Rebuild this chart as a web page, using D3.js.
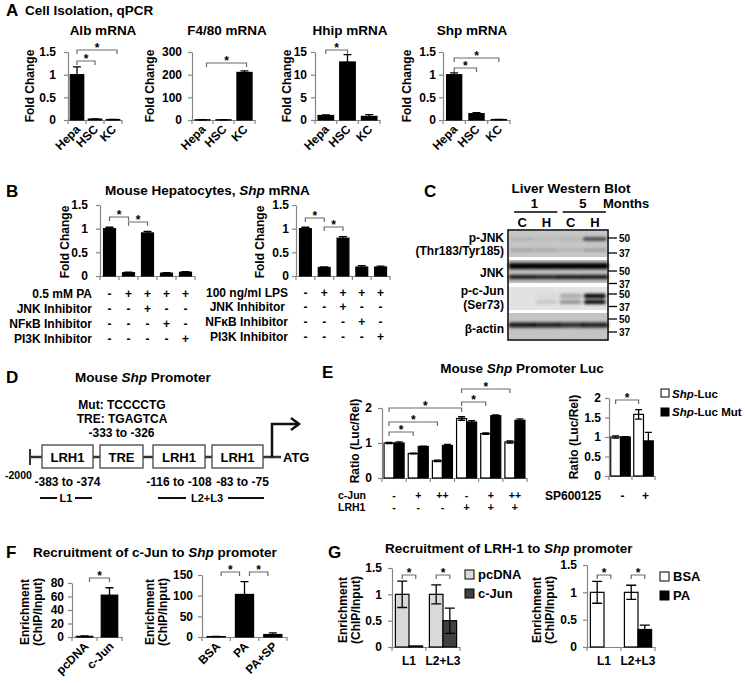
<!DOCTYPE html>
<html><head><meta charset="utf-8">
<script src="https://cdn.jsdelivr.net/npm/d3@7"></script>
<style>body{margin:0;background:#fff}svg{display:block}</style>
</head><body><svg id="fig" width="745" height="683"></svg>
<script>
// ================= DATA =================
// Panel A
const cellTypes = ["Hepa", "HSC", "KC"];
const albMean = [1.0, 0.02, 0.01], albErr = [0.17, 0.004, 0.002];
const f480Mean = [1.0, 1.0, 210], f480Err = [0.5, 0.5, 7];
const hhipMean = [1.0, 12.8, 0.8], hhipErr = [0.12, 1.6, 0.4];
const shpMean = [1.0, 0.14, 0.01], shpErr = [0.04, 0.02, 0.002];
const ticksA1 = [0, 0.5, 1, 1.5], ticksA2 = [0, 100, 200, 300], ticksA3 = [0, 5, 10, 15];
// Panel B
const bConds = ["c1", "c2", "c3", "c4", "c5"];
const paMean = [1.0, 0.07, 0.91, 0.06, 0.08], paErr = [0.03, 0.01, 0.03, 0.01, 0.01];
const lpsMean = [1.0, 0.18, 0.80, 0.19, 0.19], lpsErr = [0.03, 0.01, 0.03, 0.03, 0.02];
const paRows = ["0.5 mM PA", "JNK Inhibitor", "NFκB Inhibitor", "PI3K Inhibitor"];
const lpsRows = ["100 ng/ml LPS", "JNK Inhibitor", "NFκB Inhibitor", "PI3K Inhibitor"];
const bSigns = [["-","+","+","+","+"], ["-","-","+","-","-"], ["-","-","-","+","-"], ["-","-","-","-","+"]];
// Panel C (western blot)
const blotMonths = ["1", "5"];
const blotLanes = ["C", "H", "C", "H"];
const blotProteins = [["p-JNK", "(Thr183/Tyr185)"], ["JNK"], ["p-c-Jun", "(Ser73)"], ["β-actin"]];
const mwLabels = ["50", "37", "50", "37", "50", "37", "50", "37"];
const pjnkUpper = [0.1, 0.06, 0.08, 0.7], pjnkLower = [0.22, 0.2, 0.12, 0.25];
const jnkUpper = [1, 1, 1, 1], jnkLower = [0.9, 0.85, 0.9, 0.9];
const pcjunUpper = [0, 0.03, 0.25, 1], pcjunLower = [0, 0.12, 0.35, 1];
const actinBand = [0.9, 0.85, 0.8, 0.85];
// Panel D
const promoterBoxes = ["LRH1", "TRE", "LRH1", "LRH1"];
const promoterPos = ["-383 to -374", "-333 to -326", "-116 to -108", "-83 to -75"];
// Panel E
const eGroups = ["g1", "g2", "g3", "g4", "g5", "g6"];
const lucMean = [1.00, 0.70, 0.49, 1.70, 1.27, 1.03], lucErr = [0.02, 0.01, 0.02, 0.05, 0.02, 0.03];
const mutMean = [1.00, 0.90, 0.93, 1.60, 1.78, 1.65], mutErr = [0.03, 0.01, 0.03, 0.04, 0.02, 0.04];
const cJunSigns = ["-", "+", "++", "-", "+", "++"], lrh1Signs = ["-", "-", "-", "+", "+", "+"];
const spSigns = ["-", "+"];
const spLucMean = [1.0, 1.58], spLucErr = [0.03, 0.12], spMutMean = [1.0, 0.90], spMutErr = [0.01, 0.22];
const ticksE1 = [0, 1, 2], ticksE2 = [0, 0.5, 1, 1.5, 2];
// Panel F
const fLeftCats = ["pcDNA", "c-Jun"], fLeftMean = [1, 62], fLeftErr = [0.6, 11];
const fRightCats = ["BSA", "PA", "PA+SP"], fRightMean = [1, 103, 6], fRightErr = [0.4, 31, 4];
const ticksF1 = [0, 20, 40, 60, 80], ticksF2 = [0, 50, 100, 150];
// Panel G
const gSites = ["L1", "L2+L3"];
const gPcdnaMean = [1.0, 1.0], gPcdnaErr = [0.25, 0.18], gCjunMean = [0.02, 0.50], gCjunErr = [0, 0.24];
const gBsaMean = [1.0, 1.0], gBsaErr = [0.2, 0.13], gPaMean = [0.0, 0.32], gPaErr = [0, 0.08];

// ================= DRAWING =================
const FONT = '"Liberation Sans", Arial, Helvetica, sans-serif';
const AX = "#858585", BR = "#6a6a6a";
const svg = d3.select("#fig");
svg.append("rect").attr("width", 745).attr("height", 683).attr("fill", "#fff");

function T(x, y, parts, o = {}) {
  const t = svg.append("text").attr("x", x).attr("y", y)
    .attr("font-family", FONT).attr("font-weight", "bold").attr("font-size", o.size || 12)
    .attr("text-anchor", o.anchor || "start").attr("fill", o.fill || "#000");
  if (o.transform) t.attr("transform", o.transform);
  if (o.baseline) t.attr("dominant-baseline", o.baseline);
  if (typeof parts === "string") parts = [[parts]];
  parts.forEach(p => t.append("tspan").text(p[0]).attr("font-style", p[1] ? "italic" : "normal"));
  return t;
}
function bracket(x1, x2, y, color) {
  svg.append("path").attr("d", `M${x1},${y + 4}V${y}H${x2}V${y + 4}`)
    .attr("fill", "none").attr("stroke", color || BR).attr("stroke-width", 1.2);
  T((x1 + x2) / 2, y + 1.5, "*", { anchor: "middle", size: 12 });
}
function yLabel(x, y, lines, size) {
  lines.forEach((l, i) => T(x + i * 12.5, y, l, { anchor: "middle", baseline: "central", size: size || 12, transform: `rotate(-90 ${x + i * 12.5} ${y})` }));
}

function barChart(o) {
  const g = svg.append("g");
  const y = d3.scaleLinear().domain([0, o.max]).range([o.y0, o.yTop]);
  const x = d3.scaleBand().domain(o.cats).range([o.left, o.right]);
  const bw = x.bandwidth(), gw = bw * o.frac;
  const sub = d3.scaleBand().domain(d3.range(o.series.length)).range([(bw - gw) / 2, (bw + gw) / 2]);
  const sw = sub.bandwidth();
  const cxOf = (ci, si) => x(o.cats[ci]) + sub(si) + sw / 2;
  // x axis
  g.append("g").attr("transform", `translate(0,${o.y0})`)
    .call(d3.axisBottom(x).tickValues([]).tickSizeOuter(0))
    .select(".domain").attr("stroke", AX).attr("stroke-width", 1.2);
  g.append("g").selectAll("line").data(d3.range(o.cats.length + 1)).join("line")
    .attr("x1", i => o.left + i * bw).attr("x2", i => o.left + i * bw)
    .attr("y1", o.y0).attr("y2", o.y0 + 4).attr("stroke", AX).attr("stroke-width", 1.2);
  // bars
  o.series.forEach((s, si) => {
    const d = o.cats.map((c, i) => ({ c, i, m: s.mean[i] }));
    g.append("g").selectAll("rect").data(d).join("rect")
      .attr("x", d => x(d.c) + sub(si)).attr("width", sw)
      .attr("y", d => y(d.m)).attr("height", d => o.y0 - y(d.m))
      .attr("fill", s.fill).attr("stroke", "#000").attr("stroke-width", 1.2);
  });
  // error bars
  const cap = o.cap || 4;
  o.series.forEach((s, si) => {
    const d = o.cats.map((c, i) => ({ i, m: s.mean[i], e: s.err ? s.err[i] : 0 })).filter(d => d.e > 0);
    g.append("g").selectAll("path").data(d).join("path")
      .attr("d", d => {
        const cx = cxOf(d.i, si), t = y(d.m + d.e), b = y(Math.max(0, d.m - d.e));
        return `M${cx - cap},${t}H${cx + cap}M${cx},${t}V${b}M${cx - cap},${b}H${cx + cap}`;
      })
      .attr("stroke", "#000").attr("stroke-width", 1.3).attr("fill", "none");
  });
  // y axis
  const yg = g.append("g").attr("transform", `translate(${o.left},0)`)
    .call(d3.axisLeft(y).tickValues(o.ticks).tickSize(4).tickSizeOuter(0).tickPadding(o.pad || 5).tickFormat(d => String(d)));
  yg.attr("font-family", FONT).attr("font-size", 12).attr("font-weight", "bold").attr("color", "#000");
  yg.select(".domain").attr("stroke", AX).attr("stroke-width", 1.2);
  yg.selectAll(".tick line").attr("stroke", AX).attr("stroke-width", 1.2);
  // rotated category labels
  if (o.rot) {
    o.cats.forEach(c => {
      const px = x(c) + bw / 2 + o.rot[0], py = o.y0 + o.rot[1];
      T(px, py, c, { anchor: "end", transform: `rotate(-45 ${px} ${py})` });
    });
  }
  if (o.hlab) {
    o.cats.forEach(c => T(x(c) + bw / 2, o.hlab, c, { anchor: "middle" }));
  }
  if (o.brackets) o.brackets.forEach(b => bracket(cxOf(b[0], b[1]) + (b[5] || 0), cxOf(b[2], b[3]) + (b[6] || 0), b[4]));
  return { x, y, bw, cxOf };
}

// ---------- Panel A ----------
T(6, 16, "A", { size: 17 });
T(25, 15, "Cell Isolation, qPCR", { size: 13.5 });
T(103, 35, "Alb mRNA", { anchor: "middle", size: 13.5 });
T(227, 35, "F4/80 mRNA", { anchor: "middle", size: 13.5 });
T(350, 35, "Hhip mRNA", { anchor: "middle", size: 13.5 });
T(472, 35, "Shp mRNA", { anchor: "middle", size: 13.5 });
const blk = (m, e) => [{ mean: m, err: e, fill: "#000" }];
barChart({ cats: cellTypes, series: blk(albMean, albErr), left: 68, right: 122, y0: 120, yTop: 52, max: 1.5, ticks: ticksA1, frac: 0.75, pad: 8, rot: [4, 10], brackets: [[0, 0, 1, 0, 61], [0, 0, 2, 0, 50, 0, 4]] });
yLabel(30, 86, ["Fold Change"]);
barChart({ cats: cellTypes, series: blk(f480Mean, f480Err), left: 192, right: 255, y0: 120, yTop: 52, max: 300, ticks: ticksA2, frac: 0.72, pad: 6, rot: [4, 10], brackets: [[0, 0, 2, 0, 63, 4, 2]] });
yLabel(150, 86, ["Fold Change"]);
barChart({ cats: cellTypes, series: blk(hhipMean, hhipErr), left: 315, right: 380, y0: 120, yTop: 52, max: 15, ticks: ticksA3, frac: 0.72, pad: 4, rot: [4, 10], brackets: [[0, 0, 1, 0, 50]] });
yLabel(287, 86, ["Fold Change"]);
barChart({ cats: cellTypes, series: blk(shpMean, shpErr), left: 443, right: 510, y0: 120, yTop: 52, max: 1.5, ticks: ticksA1, frac: 0.68, pad: 3, rot: [4, 10], brackets: [[0, 0, 1, 0, 68], [0, 0, 2, 0, 58]] });
yLabel(407, 86, ["Fold Change"]);

// ---------- Panel B ----------
T(6, 197, "B", { size: 17 });
T(105, 195, [["Mouse Hepatocytes, "], ["Shp", true], [" mRNA"]], { size: 13.5 });
const bL = barChart({ cats: bConds, series: blk(paMean, paErr), left: 100, right: 195, y0: 276, yTop: 205, max: 1.5, ticks: ticksA1, frac: 0.63, pad: 8, brackets: [[0, 0, 1, 0, 217], [1, 0, 2, 0, 222]] });
yLabel(65, 242, ["Fold Change"]);
const bR = barChart({ cats: bConds, series: blk(lpsMean, lpsErr), left: 296, right: 390, y0: 276, yTop: 205, max: 1.5, ticks: ticksA1, frac: 0.63, pad: 3, brackets: [[0, 0, 1, 0, 218], [1, 0, 2, 0, 227]] });
yLabel(260, 242, ["Fold Change"]);
const bRowY = [298, 313, 328, 343], bRowYR = [297, 311, 326, 341];
paRows.forEach((r, ri) => {
  T(92, bRowY[ri], r, { anchor: "end" });
  bConds.forEach((c, ci) => T(bL.x(c) + bL.bw / 2, bRowY[ri], bSigns[ri][ci], { anchor: "middle" }));
});
lpsRows.forEach((r, ri) => {
  T(ri === 1 ? 285 : 288, bRowYR[ri], r, { anchor: "end" });
  bConds.forEach((c, ci) => T(bR.x(c) + bR.bw / 2, bRowYR[ri], bSigns[ri][ci], { anchor: "middle" }));
});

// ---------- Panel C ----------
T(424, 197, "C", { size: 17 });
T(571, 193, "Liver Western Blot", { anchor: "middle", size: 13.5 });
const laneX = d3.scaleBand().domain(d3.range(4)).range([510, 607]);
const lc = i => laneX(i) + laneX.bandwidth() / 2;
blotMonths.forEach((m, mi) => {
  const cx = (lc(mi * 2) + lc(mi * 2 + 1)) / 2;
  T(cx, 208, m, { anchor: "middle", size: 13 });
  svg.append("line").attr("x1", lc(mi * 2) - 8).attr("x2", lc(mi * 2 + 1) + 11)
    .attr("y1", 212).attr("y2", 212).attr("stroke", "#000").attr("stroke-width", 1.5);
});
T(603, 208, "Months", { size: 13 });
blotLanes.forEach((l, i) => T(lc(i), 227, l, { anchor: "middle", size: 13 }));
const defs = svg.append("defs");
defs.append("filter").attr("id", "blur").attr("x", "-20%").attr("y", "-50%").attr("width", "140%").attr("height", "200%")
  .append("feGaussianBlur").attr("stdDeviation", 1.4);
const strips = [[231, 257, "#c6c6c6"], [260, 283, "#bcbcbc"], [287, 310, "#e2e2e2"], [313, 339, "#c4c4c4"]];
svg.append("rect").attr("x", 508).attr("y", 230).attr("width", 100).attr("height", 110).attr("fill", "#fff").attr("stroke", "#000").attr("stroke-width", 1.5);
strips.forEach(s => svg.append("rect").attr("x", 509).attr("y", s[0]).attr("width", 98).attr("height", s[1] - s[0]).attr("fill", s[2]));
const bandG = svg.append("g").attr("filter", "url(#blur)");
function bands(vals, yc, h, w) {
  bandG.append("g").selectAll("rect").data(vals).join("rect")
    .attr("x", (v, i) => lc(i) - w / 2).attr("width", w).attr("y", yc - h / 2).attr("height", h)
    .attr("rx", 2).attr("fill", "#000").attr("opacity", v => v);
}
bands(pjnkUpper, 239, 3.5, 24);
bands(pjnkLower, 250, 2.5, 24);
bands(jnkUpper, 266, 6, 27);
bands(jnkLower, 277, 4, 27);
bands(pcjunUpper, 296, 4.5, 22);
bands(pcjunLower, 302, 4, 22);
bands(actinBand, 325, 5, 27);
blotProteins.forEach((p, i) => {
  const ys = [[242, 255], [277], [295, 309], [333]][i];
  p.forEach((l, j) => T(504, ys[j], l, { anchor: "end", size: 12 }));
});
const mwY = [238, 253, 271, 283.5, 294, 306.5, 319, 332];
mwLabels.forEach((m, i) => {
  svg.append("line").attr("x1", 608).attr("x2", 617).attr("y1", mwY[i]).attr("y2", mwY[i]).attr("stroke", "#000").attr("stroke-width", 1.3);
  T(619, mwY[i], m, { baseline: "central", size: 10 });
});

// ---------- Panel D ----------
T(6, 383, "D", { size: 17 });
T(75, 382, [["Mouse "], ["Shp", true], [" Promoter"]], { size: 13.5 });
T(122, 409, "Mut: TCCCCTG", { anchor: "middle" });
T(122, 423, "TRE: TGAGTCA", { anchor: "middle" });
const boxX = [[42, 93], [100, 143], [153, 205], [212, 263]];
svg.append("line").attr("x1", 30).attr("x2", 281).attr("y1", 457).attr("y2", 457).attr("stroke", "#333").attr("stroke-width", 2.5);
svg.append("line").attr("x1", 30).attr("x2", 30).attr("y1", 449).attr("y2", 465).attr("stroke", "#333").attr("stroke-width", 2);
svg.append("path").attr("d", "M272,457V424H298").attr("fill", "none").attr("stroke", "#111").attr("stroke-width", 2.5);
svg.append("path").attr("d", "M291,418L299,424L291,430").attr("fill", "none").attr("stroke", "#111").attr("stroke-width", 2.5);
promoterBoxes.forEach((b, i) => {
  svg.append("rect").attr("x", boxX[i][0]).attr("y", 445).attr("width", boxX[i][1] - boxX[i][0]).attr("height", 23)
    .attr("fill", "#fff").attr("stroke", "#444").attr("stroke-width", 1.3);
  const cx = (boxX[i][0] + boxX[i][1]) / 2;
  T(cx, 462, b, { anchor: "middle", size: 13 });
  if (i === 1) T(cx, 437, promoterPos[i], { anchor: "middle" });
  else T(cx + (i === 3 ? 5 : 0), 486, promoterPos[i], { anchor: "middle" });
});
T(283, 462, "ATG", { size: 13 });
T(5, 479, "-2000", { size: 10.5 });
svg.append("path").attr("d", "M40,498H57M75,498H92M158,498H186M228,498H264").attr("stroke", "#111").attr("stroke-width", 2);
T(66, 502, "L1", { anchor: "middle", size: 11 });
T(207, 502, "L2+L3", { anchor: "middle", size: 11 });

// ---------- Panel E ----------
T(322, 378, "E", { size: 17 });
T(522, 373, [["Mouse "], ["Shp", true], [" Promoter Luc"]], { anchor: "middle", size: 13.5 });
const eL = barChart({ cats: eGroups, series: [{ mean: lucMean, err: lucErr, fill: "#fff" }, { mean: mutMean, err: mutErr, fill: "#000" }],
  left: 382, right: 527, y0: 478, yTop: 408, max: 2, ticks: ticksE1, frac: 0.83, pad: 6, cap: 3.5,
  brackets: [[0, 0, 1, 0, 432], [0, 0, 2, 0, 422], [0, 0, 3, 0, 408], [3, 0, 4, 0, 402], [3, 0, 5, 0, 389]] });
yLabel(355, 441, ["Ratio (Luc/Rel)"]);
T(338, 498.5, "c-Jun", { size: 10.5 });
T(338, 510.5, "LRH1", { size: 10.5 });
eGroups.forEach((gname, i) => {
  T(eL.x(gname) + eL.bw / 2, 498.5, cJunSigns[i], { anchor: "middle", size: 10.5 });
  T(eL.x(gname) + eL.bw / 2, 510.5, lrh1Signs[i], { anchor: "middle", size: 10.5 });
});
const eR = barChart({ cats: spSigns, series: [{ mean: spLucMean, err: spLucErr, fill: "#fff" }, { mean: spMutMean, err: spMutErr, fill: "#000" }],
  left: 609, right: 655, y0: 476, yTop: 398, max: 2, ticks: ticksE2, frac: 0.85, pad: 4, cap: 3.5,
  brackets: [[0, 0, 1, 0, 400]] });
yLabel(574, 437, ["Ratio (Luc/Rel)"]);
T(545, 500, "SP600125");
spSigns.forEach(s => T(eR.x(s) + eR.bw / 2 + 2, 500, s, { anchor: "middle" }));
svg.append("rect").attr("x", 661).attr("y", 389).attr("width", 8).attr("height", 8).attr("fill", "#fff").attr("stroke", "#000");
svg.append("rect").attr("x", 661).attr("y", 408).attr("width", 8).attr("height", 8).attr("fill", "#000").attr("stroke", "#000");
T(672, 398, [["Shp", true], ["-Luc"]], { size: 11.5 });
T(672, 416, [["Shp", true], ["-Luc Mut"]], { size: 11.5 });

// ---------- Panel F ----------
T(6, 558, "F", { size: 17 });
T(33, 557, [["Recruitment of c-Jun to "], ["Shp", true], [" promoter"]], { size: 13.5 });
barChart({ cats: fLeftCats, series: blk(fLeftMean, fLeftErr), left: 72, right: 122, y0: 637, yTop: 583, max: 80, ticks: ticksF1, frac: 0.66, pad: 4, rot: [5, 10],
  brackets: [[0, 0, 1, 0, 578, 5, 0]] });
yLabel(25, 612, ["Enrichment", "(ChIP/Input)"]);
barChart({ cats: fRightCats, series: blk(fRightMean, fRightErr), left: 202, right: 287, y0: 637, yTop: 575, max: 150, ticks: ticksF2, frac: 0.64, pad: 5, rot: [5, 10],
  brackets: [[0, 0, 1, 0, 572, 5, -5], [1, 0, 2, 0, 572, 5, -5]] });
yLabel(150, 612, ["Enrichment", "(ChIP/Input)"]);

// ---------- Panel G ----------
T(328, 558, "G", { size: 17 });
T(385, 553, [["Recruitment of LRH-1 to "], ["Shp", true], [" promoter"]], { size: 13.5 });
barChart({ cats: gSites, series: [{ mean: gPcdnaMean, err: gPcdnaErr, fill: "#d9d9d9" }, { mean: gCjunMean, err: gCjunErr, fill: "#404040" }],
  left: 392, right: 460, y0: 647, yTop: 568, max: 1.5, ticks: ticksA1, frac: 0.8, pad: 6, cap: 5, hlab: 665,
  brackets: [[0, 0, 0, 1, 575], [1, 0, 1, 1, 575]] });
yLabel(343, 610, ["Enrichment", "(ChIP/Input)"]);
svg.append("rect").attr("x", 465).attr("y", 570).attr("width", 9).attr("height", 9).attr("fill", "#d9d9d9").attr("stroke", "#000");
svg.append("rect").attr("x", 465).attr("y", 589).attr("width", 9).attr("height", 9).attr("fill", "#404040").attr("stroke", "#000");
T(478, 579, "pcDNA", { size: 13 });
T(478, 598, "c-Jun", { size: 13 });
barChart({ cats: gSites, series: [{ mean: gBsaMean, err: gBsaErr, fill: "#fff" }, { mean: gPaMean, err: gPaErr, fill: "#000" }],
  left: 587, right: 655, y0: 647, yTop: 565, max: 1.5, ticks: ticksA1, frac: 0.8, pad: 6, cap: 5, hlab: 665,
  brackets: [[0, 0, 0, 1, 575], [1, 0, 1, 1, 575]] });
yLabel(537, 610, ["Enrichment", "(ChIP/Input)"]);
svg.append("rect").attr("x", 660).attr("y", 572).attr("width", 9).attr("height", 9).attr("fill", "#fff").attr("stroke", "#000");
svg.append("rect").attr("x", 660).attr("y", 591).attr("width", 9).attr("height", 9).attr("fill", "#000").attr("stroke", "#000");
T(673, 581, "BSA", { size: 13 });
T(673, 600, "PA", { size: 13 });
</script></body></html>
